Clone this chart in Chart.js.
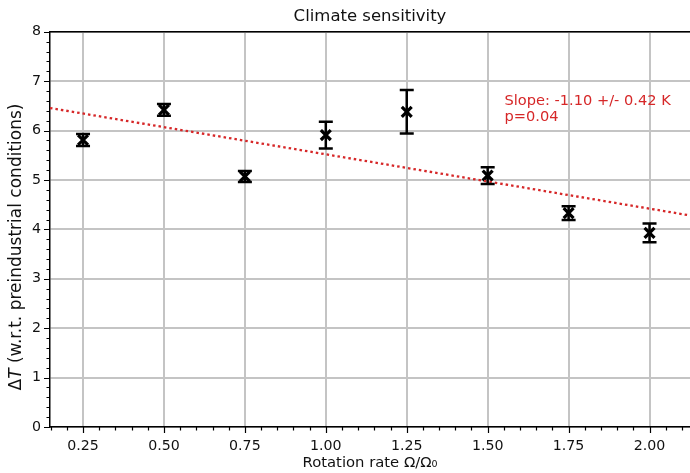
<!DOCTYPE html>
<html><head><meta charset="utf-8">
<script src="https://cdn.jsdelivr.net/npm/chart.js@4.4.1/dist/chart.umd.min.js"></script>
<style>html,body{margin:0;padding:0;background:#fff;overflow:hidden;} #wrap{width:690px;height:473px;position:relative;} canvas{display:block;}</style>
</head><body><div id="wrap"><canvas id="c" width="690" height="473"></canvas></div>
<script>
const rotationRates = [0.25, 0.50, 0.75, 1.00, 1.25, 1.50, 1.75, 2.00];
const deltaT = [5.81, 6.42, 5.07, 5.91, 6.38, 5.09, 4.33, 3.93];
const deltaTErr = [0.12, 0.12, 0.11, 0.27, 0.44, 0.17, 0.14, 0.19];
const fitSlope = -1.10;
const fitIntercept = 6.62;
const xTickLabels = ['0.25', '0.50', '0.75', '1.00', '1.25', '1.50', '1.75', '2.00'];
const yTickLabels = ['0', '1', '2', '3', '4', '5', '6', '7', '8'];
const titleText = 'Climate sensitivity';
const xAxisTitle = 'Rotation rate Ω/Ω₀';
const yAxisTitleParts = ['Δ', 'T', ' (w.r.t. preindustrial conditions)'];
const annotationLines = ['Slope: -1.10 +/- 0.42 K', 'p=0.04'];
const annotationAt = { x: 1.552, y: 6.62 };
const xRange = [0.148, 2.125];
const yRange = [0, 8];

const FONT = "'DejaVu Sans', 'Liberation Sans', sans-serif";
const RED = '#d62728';

const isXMajor = v => xTickLabels.includes(Number(v).toFixed(2));
const isYMajor = v => yTickLabels.includes(String(Math.round(v))) && Math.abs(v - Math.round(v)) < 1e-6;

const errorBarPlugin = {
  id: 'errorBars',
  afterDatasetsDraw(chart) {
    const ctx = chart.ctx, xs = chart.scales.x, ys = chart.scales.y;
    ctx.save();
    ctx.strokeStyle = '#000';
    ctx.lineWidth = 2.5;
    const cap = 7;
    rotationRates.forEach((r, i) => {
      const px = xs.getPixelForValue(r);
      const yTop = ys.getPixelForValue(deltaT[i] + deltaTErr[i]);
      const yBot = ys.getPixelForValue(deltaT[i] - deltaTErr[i]);
      ctx.beginPath();
      ctx.moveTo(px, yTop); ctx.lineTo(px, yBot);
      ctx.moveTo(px - cap, yTop); ctx.lineTo(px + cap, yTop);
      ctx.moveTo(px - cap, yBot); ctx.lineTo(px + cap, yBot);
      ctx.stroke();
    });
    ctx.restore();
  }
};

const decorPlugin = {
  id: 'decor',
  afterDraw(chart) {
    const ctx = chart.ctx, xs = chart.scales.x, ys = chart.scales.y, a = chart.chartArea;
    ctx.save();
    // top spine
    ctx.strokeStyle = '#000';
    ctx.lineWidth = 1.5;
    ctx.beginPath();
    ctx.moveTo(a.left, a.top); ctx.lineTo(a.right, a.top);
    ctx.stroke();
    // tick marks (major + minor)
    ctx.lineWidth = 1.2;
    ctx.beginPath();
    for (let k = Math.ceil(xRange[0] / 0.05); k * 0.05 <= xRange[1] + 1e-9; k++) {
      const v = k * 0.05;
      const px = Math.round(xs.getPixelForValue(v)) + 0.5;
      const len = isXMajor(v) ? 6 : 3.5;
      ctx.moveTo(px, a.bottom); ctx.lineTo(px, a.bottom + len);
    }
    for (let k = Math.ceil(yRange[0] / 0.2); k * 0.2 <= yRange[1] + 1e-9; k++) {
      const v = k * 0.2;
      const py = Math.round(ys.getPixelForValue(v)) + 0.5;
      const len = isYMajor(v) ? 6 : 3.5;
      ctx.moveTo(a.left, py); ctx.lineTo(a.left - len, py);
    }
    ctx.stroke();
    // annotation
    ctx.fillStyle = RED;
    ctx.font = '14.6px ' + FONT;
    ctx.textAlign = 'left';
    ctx.textBaseline = 'alphabetic';
    const ax = xs.getPixelForValue(annotationAt.x);
    const ay = ys.getPixelForValue(annotationAt.y);
    annotationLines.forEach((t, i) => ctx.fillText(t, ax, ay + 5 + i * 16));
    // y axis title with italic T
    ctx.fillStyle = '#111';
    ctx.translate(17, 247);
    ctx.rotate(-Math.PI / 2);
    const fonts = ['17px ' + FONT, 'italic 17px ' + FONT, '17px ' + FONT];
    let total = 0;
    const widths = yAxisTitleParts.map((p, i) => { ctx.font = fonts[i]; const w = ctx.measureText(p).width; total += w; return w; });
    let cx = -total / 2;
    ctx.textBaseline = 'middle';
    yAxisTitleParts.forEach((p, i) => { ctx.font = fonts[i]; ctx.fillText(p, cx, 0); cx += widths[i]; });
    ctx.restore();
  }
};

const fitData = xRange.map(x => ({ x: x, y: fitIntercept + fitSlope * x }));

new Chart(document.getElementById('c'), {
  type: 'scatter',
  data: {
    datasets: [
      {
        type: 'line',
        label: 'fit',
        data: fitData,
        borderColor: RED,
        borderWidth: 2.3,
        borderDash: [2.5, 3],
        pointRadius: 0,
        fill: false,
        order: 0
      },
      {
        label: 'ΔT',
        data: rotationRates.map((r, i) => ({ x: r, y: deltaT[i] })),
        pointStyle: 'crossRot',
        pointRadius: 7,
        pointBorderWidth: 3.2,
        borderColor: '#000',
        backgroundColor: '#000',
        order: 1
      }
    ]
  },
  options: {
    responsive: false,
    animation: false,
    devicePixelRatio: 1,
    layout: { autoPadding: false, padding: { top: 0, right: 0, bottom: 0, left: 0 } },
    plugins: {
      legend: { display: false },
      tooltip: { enabled: false },
      title: {
        display: true,
        fullSize: false,
        text: titleText,
        color: '#111',
        font: { family: FONT, size: 16.5, weight: 'normal' },
        padding: { top: 7, bottom: 5 }
      }
    },
    scales: {
      x: {
        type: 'linear',
        min: xRange[0],
        max: xRange[1],
        afterFit(s) { s.height = 46; s.paddingLeft = 0; s.paddingRight = 0; },
        border: { display: true, color: '#000', width: 1.5 },
        grid: {
          drawTicks: true,
          tickLength: 11,
          tickColor: 'rgba(0,0,0,0)',
          lineWidth: 2,
          color: c => isXMajor(c.tick.value) ? '#c4c4c4' : 'rgba(0,0,0,0)'
        },
        ticks: {
          stepSize: 0.05,
          includeBounds: false,
          autoSkip: false,
          maxRotation: 0,
          padding: 0,
          color: '#111',
          font: { family: FONT, size: 14.2 },
          callback: v => isXMajor(v) ? Number(v).toFixed(2) : ''
        },
        title: {
          display: true,
          text: xAxisTitle,
          color: '#111',
          font: { family: FONT, size: 14.8 },
          padding: { top: 0, bottom: 1 }
        }
      },
      y: {
        type: 'linear',
        min: yRange[0],
        max: yRange[1],
        afterFit(s) { s.width = 50; s.paddingTop = 0; s.paddingBottom = 0; },
        border: { display: true, color: '#000', width: 1.5 },
        grid: {
          drawTicks: true,
          tickLength: 9,
          tickColor: 'rgba(0,0,0,0)',
          lineWidth: 2,
          color: c => isYMajor(c.tick.value) ? '#c4c4c4' : 'rgba(0,0,0,0)'
        },
        ticks: {
          stepSize: 0.2,
          includeBounds: false,
          autoSkip: false,
          padding: 0,
          color: '#111',
          font: { family: FONT, size: 14.2 },
          callback: v => isYMajor(v) ? String(Math.round(v)) : ''
        }
      }
    }
  },
  plugins: [errorBarPlugin, decorPlugin]
});
</script>
</body></html>
